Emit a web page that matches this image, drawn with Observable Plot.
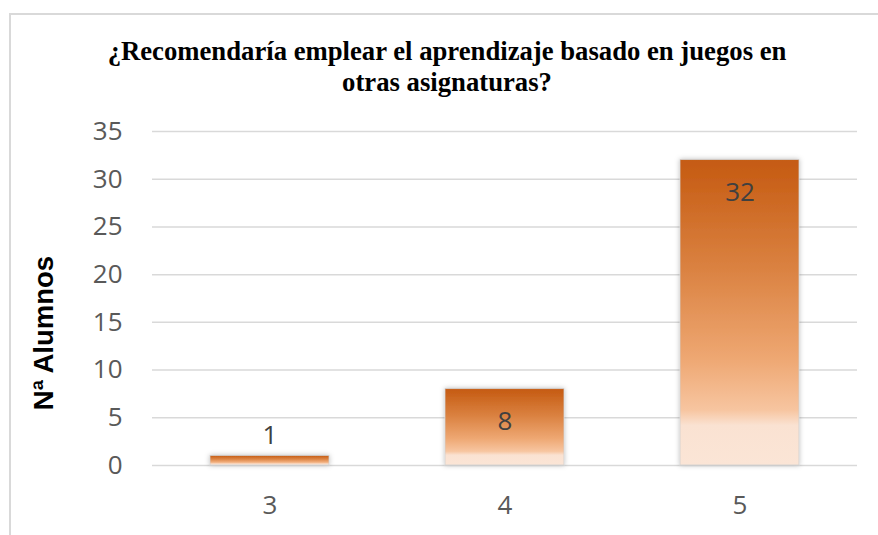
<!DOCTYPE html>
<html>
<head>
<meta charset="utf-8">
<script src="https://cdn.jsdelivr.net/npm/d3@7"></script>
<script src="https://cdn.jsdelivr.net/npm/@observablehq/plot@0.6"></script>
<style>
  html, body { margin: 0; padding: 0; background: #fff; }
  #wrap { position: relative; width: 878px; height: 535px; overflow: hidden; }
  #frame { position: absolute; left: 9px; top: 13px; width: 900px; height: 560px; border: 2px solid #d9d9d9; box-sizing: border-box; }
  #title { position: absolute; left: 0; top: 36px; width: 894px; text-align: center; font-family: "Liberation Serif", "DejaVu Serif", serif; font-weight: bold; font-size: 26.7px; line-height: 31px; color: #000; }
  #ylab { position: absolute; left: 44px; top: 333px; transform: translate(-50%, -50%) rotate(-90deg); white-space: nowrap; font-family: "Liberation Sans", Arial, sans-serif; font-weight: bold; font-size: 27.5px; color: #000; }
  #chart { position: absolute; left: 0; top: 100px; }
</style>
</head>
<body>
<div id="wrap">
  <div id="frame"></div>
  <div id="title"></div>
  <div id="ylab"></div>
  <div id="chart"></div>
</div>
<script>
const titleLines = ["¿Recomendaría emplear el aprendizaje basado en juegos en", "otras asignaturas?"];
const yLabel = "Nª Alumnos";
const categories = ["3", "4", "5"];
const values = [1, 8, 32];
const yTicks = [0, 5, 10, 15, 20, 25, 30, 35];

document.getElementById("title").innerHTML = titleLines.join("<br>");
document.getElementById("ylab").textContent = yLabel;

const data = categories.map((c, i) => ({cat: c, value: values[i]}));

const plot = Plot.plot({
  width: 878,
  height: 435,
  marginLeft: 152,
  marginRight: 21,
  marginTop: 31,
  marginBottom: 70,
  style: {fontFamily: "'Open Sans', sans-serif", fontSize: "26px", color: "#595959", background: "transparent"},
  x: {domain: categories, paddingInner: 0.494, paddingOuter: 0.247, label: null},
  y: {domain: [0, 35], label: null},
  marks: [
    Plot.gridY(yTicks, {stroke: "#d9d9d9", strokeOpacity: 1, strokeWidth: 1.5}),
    Plot.axisY(yTicks, {tickSize: 0, tickPadding: 30, label: null, fill: "#595959", fontSize: 26}),
    Plot.axisX({tickSize: 0, tickPadding: 30, label: null, fill: "#595959", fontSize: 26}),
    Plot.barY(data, {x: "cat", y: "value", fill: "url(#barGrad)", stroke: "#d0d0d0", strokeWidth: 0.8, className: "bars"}),
    Plot.text(data.filter(d => d.value >= 5), {x: "cat", y: "value", text: d => String(d.value), dy: 33, fill: "#404040", fontSize: 26}),
    Plot.text(data.filter(d => d.value < 5), {x: "cat", y: "value", text: d => String(d.value), dy: -20, fill: "#404040", fontSize: 26})
  ]
});

const ns = "http://www.w3.org/2000/svg";
const defs = document.createElementNS(ns, "defs");
defs.innerHTML = `
  <linearGradient id="barGrad" x1="0" y1="0" x2="0" y2="1">
    <stop offset="0" stop-color="#c55a11"/>
    <stop offset="0.35" stop-color="#da8140"/>
    <stop offset="0.65" stop-color="#eea772"/>
    <stop offset="0.82" stop-color="#f7c5a0"/>
    <stop offset="0.87" stop-color="#fae2d2"/>
    <stop offset="1" stop-color="#fbe5d6"/>
  </linearGradient>
  <filter id="shadow" x="-10%" y="-10%" width="120%" height="120%">
    <feDropShadow dx="0" dy="0" stdDeviation="2.5" flood-color="#000" flood-opacity="0.25"/>
  </filter>`;
plot.insertBefore(defs, plot.firstChild);
plot.querySelectorAll("g.bars, g[aria-label='bar']").forEach(g => g.setAttribute("filter", "url(#shadow)"));
document.getElementById("chart").appendChild(plot);
</script>
</body>
</html>
